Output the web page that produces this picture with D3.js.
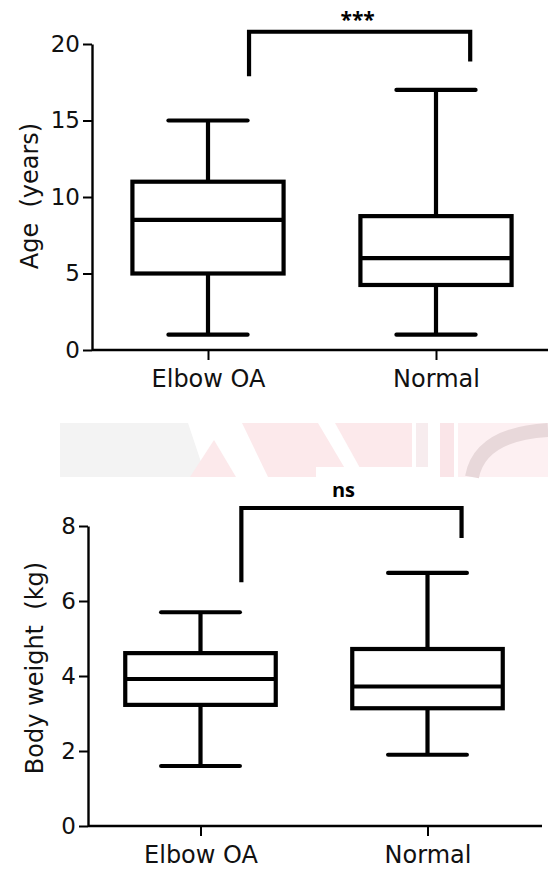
<!DOCTYPE html>
<html><head><meta charset="utf-8">
<script src="https://cdn.jsdelivr.net/npm/d3@7"></script>
<style>body{margin:0;background:#fff}svg{display:block}</style>
</head><body><svg id="c" width="548" height="869"></svg>
<script>
// ---- data ----
const categories = ["Elbow OA", "Normal"];
const ageMin = [1, 1];
const ageQ1 = [5, 4.25];
const ageMedian = [8.5, 6];
const ageQ3 = [11, 8.75];
const ageMax = [15, 17];
const ageTicks = [0, 5, 10, 15, 20];
const ageSig = ["***", 20.8, 17.9, 18.85]; // label, bracket top, left leg end, right leg end

const weightMin = [1.6, 1.9];
const weightQ1 = [3.23, 3.14];
const weightMedian = [3.92, 3.72];
const weightQ3 = [4.61, 4.72];
const weightMax = [5.7, 6.75];
const weightTicks = [0, 2, 4, 6, 8];
const weightSig = ["ns", 8.48, 6.5, 7.68];

const svg = d3.select("#c");

// faint watermark band behind the charts
const wm = svg.append("g");
wm.append("polygon").attr("points", "60,423 188,423 206,477 60,477").attr("fill", "#f3f3f3");
wm.append("polygon").attr("points", "190,477 214,440 236,477").attr("fill", "#fce9eb");
wm.append("polygon").attr("points", "242,423 318,423 350,477 268,477").attr("fill", "#fce9eb");
wm.append("polygon").attr("points", "335,423 412,423 412,477 365,477").attr("fill", "#fce9eb");
wm.append("rect").attr("x", 416).attr("y", 423).attr("width", 12).attr("height", 54).attr("fill", "#f7ecee");
wm.append("rect").attr("x", 440).attr("y", 423).attr("width", 14).attr("height", 54).attr("fill", "#fae5e8");
wm.append("polygon").attr("points", "458,423 548,423 548,477 458,477").attr("fill", "#fdf0f2");
wm.append("path").attr("d", "M472,477 Q480,434 548,430").attr("fill", "none").attr("stroke", "#e8d8da").attr("stroke-width", 14);
wm.append("rect").attr("x", 316).attr("y", 467).attr("width", 118).attr("height", 11).attr("fill", "#fff");

function panel(cfg) {
  const g = svg.append("g");
  const y = d3.scaleLinear().domain([0, cfg.ticks[cfg.ticks.length - 1]]).range([cfg.yBottom, cfg.yTop]);
  const x = d3.scalePoint().domain(categories).range(cfg.xRange).padding(0.5);
  const step = x.step();

  // y axis
  const ya = g.append("g").attr("transform", `translate(${cfg.axisX},0)`)
    .call(d3.axisLeft(y).tickValues(cfg.ticks).tickSize(9).tickSizeOuter(0).tickPadding(3).tickFormat(d3.format("d")));
  ya.select(".domain").attr("stroke", "#000").attr("stroke-width", 2.4);
  ya.selectAll(".tick line").attr("stroke", "#000").attr("stroke-width", 2);
  ya.selectAll(".tick text").attr("fill", "#111").style("font-family", "DejaVu Sans").style("font-size", "23px");

  // x axis
  const xa = g.append("g").attr("transform", `translate(0,${cfg.yBottom})`)
    .call(d3.axisBottom(x).tickSize(10).tickPadding(10));
  xa.select(".domain").remove();
  xa.append("line").attr("x1", cfg.axisX).attr("x2", cfg.xEnd).attr("y1", 0).attr("y2", 0)
    .attr("stroke", "#000").attr("stroke-width", 2.4);
  xa.selectAll(".tick line").attr("stroke", "#000").attr("stroke-width", 2);
  xa.selectAll(".tick text").attr("fill", "#111").style("font-family", "DejaVu Sans").style("font-size", "24px");

  // y title
  g.append("text").attr("transform", `translate(${cfg.titleX},${cfg.titleY}) rotate(-90)`)
    .attr("text-anchor", "middle").attr("fill", "#111")
    .style("font-family", "DejaVu Sans").style("font-size", "24px")
    .attr("xml:space", "preserve").text(cfg.title);

  const boxW = step * 0.663, capW = step * 0.347;
  const rows = categories.map((c, i) => ({c, min: cfg.min[i], q1: cfg.q1[i], med: cfg.med[i], q3: cfg.q3[i], max: cfg.max[i]}));
  const b = g.selectAll(".box").data(rows).enter().append("g").attr("class", "box");
  const sw = 4.2;
  // whiskers
  b.append("line").attr("x1", d => x(d.c)).attr("x2", d => x(d.c)).attr("y1", d => y(d.max)).attr("y2", d => y(d.q3))
    .attr("stroke", "#000").attr("stroke-width", sw);
  b.append("line").attr("x1", d => x(d.c)).attr("x2", d => x(d.c)).attr("y1", d => y(d.q1)).attr("y2", d => y(d.min))
    .attr("stroke", "#000").attr("stroke-width", sw);
  // caps
  b.append("line").attr("x1", d => x(d.c) - capW / 2).attr("x2", d => x(d.c) + capW / 2).attr("y1", d => y(d.max)).attr("y2", d => y(d.max))
    .attr("stroke", "#000").attr("stroke-width", sw).attr("stroke-linecap", "round");
  b.append("line").attr("x1", d => x(d.c) - capW / 2).attr("x2", d => x(d.c) + capW / 2).attr("y1", d => y(d.min)).attr("y2", d => y(d.min))
    .attr("stroke", "#000").attr("stroke-width", sw).attr("stroke-linecap", "round");
  // box
  b.append("rect").attr("x", d => x(d.c) - boxW / 2).attr("width", boxW)
    .attr("y", d => y(d.q3)).attr("height", d => y(d.q1) - y(d.q3))
    .attr("fill", "#fff").attr("stroke", "#000").attr("stroke-width", sw);
  // median
  b.append("line").attr("x1", d => x(d.c) - boxW / 2).attr("x2", d => x(d.c) + boxW / 2).attr("y1", d => y(d.med)).attr("y2", d => y(d.med))
    .attr("stroke", "#000").attr("stroke-width", sw);

  // significance bracket
  const [lab, top, lEnd, rEnd] = cfg.sig;
  const xl = x(categories[0]) + step * 0.18, xr = x(categories[1]) + step * 0.15;
  g.append("path").attr("d", `M${xl},${y(lEnd)}V${y(top)}H${xr}V${y(rEnd)}`)
    .attr("fill", "none").attr("stroke", "#000").attr("stroke-width", sw).attr("stroke-linejoin", "miter");
  g.append("text").attr("x", (xl + xr) / 2 + cfg.labDx).attr("y", cfg.labY)
    .attr("text-anchor", "middle").attr("fill", "#000")
    .style("font-family", "Open Sans").style("font-weight", "bold").style("font-size", cfg.labSize + "px")
    .text(lab);
}

panel({ticks: ageTicks, yTop: 44, yBottom: 350, axisX: 92, xRange: [94, 550], xEnd: 548,
  min: ageMin, q1: ageQ1, med: ageMedian, q3: ageQ3, max: ageMax, sig: ageSig,
  title: "Age  (years)", titleX: 38, titleY: 196, labY: 27, labDx: -2, labSize: 21});
panel({ticks: weightTicks, yTop: 526, yBottom: 826, axisX: 88, xRange: [87, 541], xEnd: 542,
  min: weightMin, q1: weightQ1, med: weightMedian, q3: weightQ3, max: weightMax, sig: weightSig,
  title: "Body weight  (kg)", titleX: 43, titleY: 668, labY: 497, labDx: -8, labSize: 20});
</script></body></html>
